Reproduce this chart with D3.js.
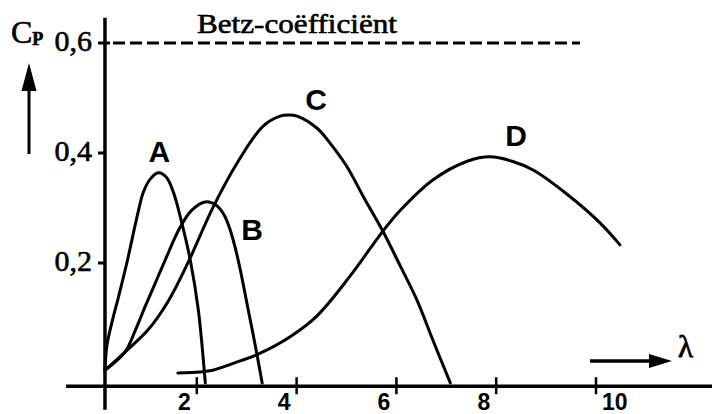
<!DOCTYPE html>
<html>
<head>
<meta charset="utf-8">
<script src="https://cdn.jsdelivr.net/npm/d3@7"></script>
<style>
  html, body { margin: 0; padding: 0; background: #fff; }
  svg { display: block; }
</style>
</head>
<body>
<svg id="chart" width="712" height="414"></svg>
<script>
// Power coefficient Cp against tip speed ratio λ for four rotor types
const curveNames = ["A", "B", "C", "D"];

const lambdaA = [0.16, 0.20, 0.31, 0.43, 0.61, 0.81, 0.93, 1.07, 1.23, 1.39, 1.53, 1.71, 1.87, 2.03, 2.17];
const cpA     = [0.005, 0.051, 0.096, 0.138, 0.205, 0.287, 0.329, 0.353, 0.364, 0.356, 0.329, 0.269, 0.205, 0.115, -0.018];

const lambdaB = [0.16, 0.56, 0.77, 0.97, 1.17, 1.36, 1.66, 1.90, 2.17, 2.39, 2.55, 2.67, 2.83, 3.03, 3.17, 3.31];
const cpB     = [0.005, 0.038, 0.078, 0.122, 0.164, 0.204, 0.264, 0.296, 0.311, 0.305, 0.287, 0.260, 0.205, 0.115, 0.051, -0.018];

const lambdaC = [0.16, 0.56, 1.02, 1.43, 1.83, 2.33, 2.83, 3.33, 3.67, 3.83, 4.01, 4.41, 4.67, 5.01, 5.33, 5.74, 6.07, 6.41, 6.73, 7.08];
const cpC     = [0.005, 0.038, 0.078, 0.131, 0.202, 0.302, 0.385, 0.449, 0.467, 0.469, 0.467, 0.445, 0.418, 0.375, 0.322, 0.256, 0.196, 0.133, 0.060, -0.018];

const lambdaD = [1.62, 2.06, 2.32, 2.87, 3.27, 3.87, 4.41, 5.07, 5.73, 6.07, 6.73, 7.42, 7.88, 8.32, 8.74, 9.42, 10.08, 10.48];
const cpD     = [0.0, 0.002, 0.005, 0.022, 0.036, 0.066, 0.104, 0.176, 0.258, 0.295, 0.351, 0.385, 0.393, 0.385, 0.369, 0.325, 0.273, 0.233];

// where each curve's letter sits, in data units
const labelLambda = [1.25, 3.11, 4.39, 8.4];
const labelCp     = [0.384, 0.242, 0.478, 0.413];

const xTicks = [2, 4, 6, 8, 10];
const yTicks = [0.2, 0.4, 0.6];
const yTickLabels = ["0,2", "0,4", "0,6"];
const betzCp = 0.6;
const betzLabel = "Betz-coëfficiënt";

const svg = d3.select("#chart");

const x = d3.scaleLinear().domain([0, 10]).range([97, 596]);
const y = d3.scaleLinear().domain([0, 0.6]).range([373, 43]);

const ink = "#000";
const serif = "'Liberation Serif', 'Times New Roman', serif";
const sans = "'Liberation Sans', Arial, sans-serif";

// axis lines
const axisLambda = 0.16;     // vertical axis position on the λ scale
const axisCp = -0.024;       // horizontal axis position on the Cp scale
svg.append("line")
  .attr("x1", x(axisLambda)).attr("x2", x(axisLambda))
  .attr("y1", y(0.646)).attr("y2", y(-0.067))
  .attr("stroke", ink).attr("stroke-width", 3.5);
svg.append("line")
  .attr("x1", x(-0.62)).attr("x2", 712)
  .attr("y1", y(axisCp)).attr("y2", y(axisCp))
  .attr("stroke", ink).attr("stroke-width", 3.5);

// x ticks crossing the axis
svg.selectAll(".xtick").data(xTicks).enter().append("line")
  .attr("x1", d => x(d)).attr("x2", d => x(d))
  .attr("y1", y(axisCp) - 9).attr("y2", y(axisCp) + 8)
  .attr("stroke", ink).attr("stroke-width", 2.5);
svg.selectAll(".xlabel").data(xTicks).enter().append("text")
  .attr("x", d => d === 10 ? x(d) + 6 : x(d) - 6)
  .attr("y", 410)
  .attr("text-anchor", d => d === 10 ? "start" : "end")
  .attr("font-family", sans).attr("font-weight", "bold").attr("font-size", 23)
  .attr("fill", ink)
  .text(d => d);

// y ticks
svg.selectAll(".ytick").data(yTicks).enter().append("line")
  .attr("x1", x(axisLambda) - 7)
  .attr("x2", d => d === 0.6 ? x(axisLambda) + 5 : x(axisLambda))
  .attr("y1", d => y(d)).attr("y2", d => y(d))
  .attr("stroke", ink).attr("stroke-width", 3);
svg.selectAll(".ylabel").data(yTicks).enter().append("text")
  .attr("x", 92)
  .attr("y", d => y(d) + 8)
  .attr("text-anchor", "end")
  .attr("font-family", serif).attr("font-size", 30)
  .attr("fill", ink).attr("stroke", ink).attr("stroke-width", 0.6)
  .text((d, i) => yTickLabels[i]);

// Cp axis title with upward arrow
const cpTitle = svg.append("text")
  .attr("x", 11).attr("y", 43)
  .attr("font-family", serif).attr("fill", ink)
  .attr("stroke", ink).attr("stroke-width", 0.6);
cpTitle.append("tspan").attr("font-size", 32).text("C");
cpTitle.append("tspan").attr("font-size", 18).attr("font-weight", "bold").attr("dy", 2).text("P");
svg.append("line")
  .attr("x1", 29).attr("x2", 29).attr("y1", 85).attr("y2", 154)
  .attr("stroke", ink).attr("stroke-width", 3);
svg.append("path")
  .attr("d", "M29,63 L36.5,91 L21.5,91 Z")
  .attr("fill", ink);

// λ axis title with arrow
svg.append("line")
  .attr("x1", 590).attr("x2", 656).attr("y1", 361).attr("y2", 361)
  .attr("stroke", ink).attr("stroke-width", 3.5);
svg.append("path")
  .attr("d", "M672,361 L649,354 L649,368 Z")
  .attr("fill", ink);
svg.append("text")
  .attr("x", 678).attr("y", 357)
  .attr("font-family", serif).attr("font-size", 31)
  .attr("fill", ink).attr("stroke", ink).attr("stroke-width", 0.8)
  .text("λ");

// Betz limit
svg.append("line")
  .attr("x1", x(axisLambda) + 8).attr("x2", 580)
  .attr("y1", y(betzCp)).attr("y2", y(betzCp))
  .attr("stroke", ink).attr("stroke-width", 3)
  .attr("stroke-dasharray", "12,5");
svg.append("text")
  .attr("x", 197).attr("y", 33)
  .attr("font-family", serif).attr("font-size", 27)
  .attr("textLength", 200).attr("lengthAdjust", "spacingAndGlyphs")
  .attr("fill", ink).attr("stroke", ink).attr("stroke-width", 0.6)
  .text(betzLabel);

// performance curves
const series = [
  d3.zip(lambdaA, cpA),
  d3.zip(lambdaB, cpB),
  d3.zip(lambdaC, cpC),
  d3.zip(lambdaD, cpD)
];
const line = d3.line()
  .x(d => x(d[0]))
  .y(d => y(d[1]))
  .curve(d3.curveCatmullRom.alpha(0.5));

svg.selectAll(".curve").data(series).enter().append("path")
  .attr("d", line)
  .attr("fill", "none")
  .attr("stroke", ink)
  .attr("stroke-width", 3)
  .attr("stroke-linejoin", "round")
  .attr("stroke-linecap", "round");

svg.selectAll(".curvelabel").data(curveNames).enter().append("text")
  .attr("x", (d, i) => x(labelLambda[i]))
  .attr("y", (d, i) => y(labelCp[i]))
  .attr("text-anchor", "middle")
  .attr("font-family", sans).attr("font-weight", "bold").attr("font-size", 30)
  .attr("fill", ink)
  .text(d => d);
</script>
</body>
</html>
